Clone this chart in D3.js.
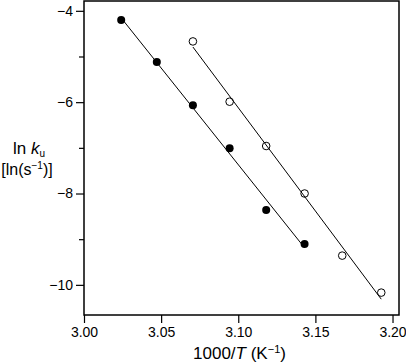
<!DOCTYPE html>
<html>
<head>
<meta charset="utf-8">
<script src="https://cdn.jsdelivr.net/npm/d3@7/dist/d3.min.js"></script>
<style>
  html, body { margin: 0; padding: 0; background: #fff; }
  svg { display: block; font-family: "Liberation Sans", Arial, Helvetica, sans-serif; }
</style>
</head>
<body>
<svg id="chart" width="406" height="364"></svg>
<script>
// Data (1000/T in K^-1, ln k_u)
const filledX = [3.0241, 3.0472, 3.0706, 3.0944, 3.1181, 3.1430];
const filledY = [-4.20, -5.12, -6.07, -7.01, -8.36, -9.105];
const openX   = [3.0706, 3.0944, 3.1181, 3.1430, 3.1674, 3.1927];
const openY   = [-4.67, -5.99, -6.96, -8.00, -9.36, -10.17];
const xTicks = [3.00, 3.05, 3.10, 3.15, 3.20];
const yMajorTicks = [-4, -6, -8, -10];
const yMinorTicks = [-5, -7, -9];

const svg = d3.select("#chart");
const L = 84, R = 399, T = 1, B = 315;

const x = d3.scaleLinear().domain([3.0, 3.2042]).range([L, R]);
const y = d3.scaleLinear().domain([-10.66, -3.785]).range([B, T]);

function fit(xs, ys) {
  const n = xs.length;
  const mx = d3.mean(xs), my = d3.mean(ys);
  let sxy = 0, sxx = 0;
  for (let i = 0; i < n; i++) { sxy += (xs[i]-mx)*(ys[i]-my); sxx += (xs[i]-mx)*(xs[i]-mx); }
  const m = sxy / sxx, b = my - m*mx;
  const x0 = d3.min(xs), x1 = d3.max(xs);
  return [[x0, m*x0 + b], [x1, m*x1 + b]];
}

const line = d3.line().x(d => x(d[0])).y(d => y(d[1]));

// regression lines
[[filledX, filledY], [openX, openY]].forEach(([xs, ys]) => {
  svg.append("path").attr("d", line(fit(xs, ys)))
    .attr("fill", "none").attr("stroke", "#000").attr("stroke-width", 1);
});

// points
svg.append("g").selectAll("circle").data(filledX.map((v, i) => [v, filledY[i]]))
  .join("circle").attr("cx", d => x(d[0])).attr("cy", d => y(d[1])).attr("r", 4)
  .attr("fill", "#000");
svg.append("g").selectAll("circle").data(openX.map((v, i) => [v, openY[i]]))
  .join("circle").attr("cx", d => x(d[0])).attr("cy", d => y(d[1])).attr("r", 3.8)
  .attr("fill", "none").attr("stroke", "#000").attr("stroke-width", 1);

// axes
const xAxis = d3.axisBottom(x).tickValues(xTicks).tickFormat(d3.format(".2f")).tickSize(8).tickPadding(4);
const gx = svg.append("g").attr("transform", `translate(0,${B})`).call(xAxis);
gx.select(".domain").remove();
gx.selectAll("line").attr("stroke-width", 1.2);
gx.selectAll("text").attr("font-size", 14).attr("fill", "#000").attr("font-family", "Liberation Sans, Arial, sans-serif");

const yAxis = d3.axisLeft(y).tickValues(yMajorTicks).tickFormat(d3.format("d")).tickSize(8).tickPadding(3);
const gy = svg.append("g").attr("transform", `translate(${L},0)`).call(yAxis);
gy.select(".domain").remove();
gy.selectAll("line").attr("stroke-width", 1.2);
gy.selectAll("text").attr("font-size", 14).attr("fill", "#000").attr("font-family", "Liberation Sans, Arial, sans-serif");

const yMinor = d3.axisLeft(y).tickValues(yMinorTicks).tickFormat("").tickSize(5);
const gym = svg.append("g").attr("transform", `translate(${L},0)`).call(yMinor);
gym.select(".domain").remove();
gym.selectAll("line").attr("stroke-width", 1.2);

// frame
svg.append("rect").attr("x", L).attr("y", T).attr("width", R - L).attr("height", B - T)
  .attr("fill", "none").attr("stroke", "#000").attr("stroke-width", 1.5);

// x title
const xt = svg.append("text").attr("x", (L + R) / 2 - 2).attr("y", 359)
  .attr("text-anchor", "middle").attr("font-size", 17).attr("fill", "#000");
xt.append("tspan").text("1000/");
xt.append("tspan").attr("font-style", "italic").text("T");
xt.append("tspan").text(" (K");
xt.append("tspan").attr("font-size", 11).attr("dy", -6).text("−1");
xt.append("tspan").attr("dy", 6).text(")");

// y title
const yt1 = svg.append("text").attr("x", 29).attr("y", 154)
  .attr("text-anchor", "middle").attr("font-size", 17).attr("fill", "#000");
yt1.append("tspan").text("ln ");
yt1.append("tspan").attr("font-style", "italic").text("k");
yt1.append("tspan").attr("font-size", 10).attr("dy", 3).text("u");

const yt2 = svg.append("text").attr("x", 27).attr("y", 175)
  .attr("text-anchor", "middle").attr("font-size", 16).attr("fill", "#000");
yt2.append("tspan").text("[ln(s");
yt2.append("tspan").attr("font-size", 10).attr("dy", -6).text("−1");
yt2.append("tspan").attr("dy", 6).text(")]");
</script>
</body>
</html>
